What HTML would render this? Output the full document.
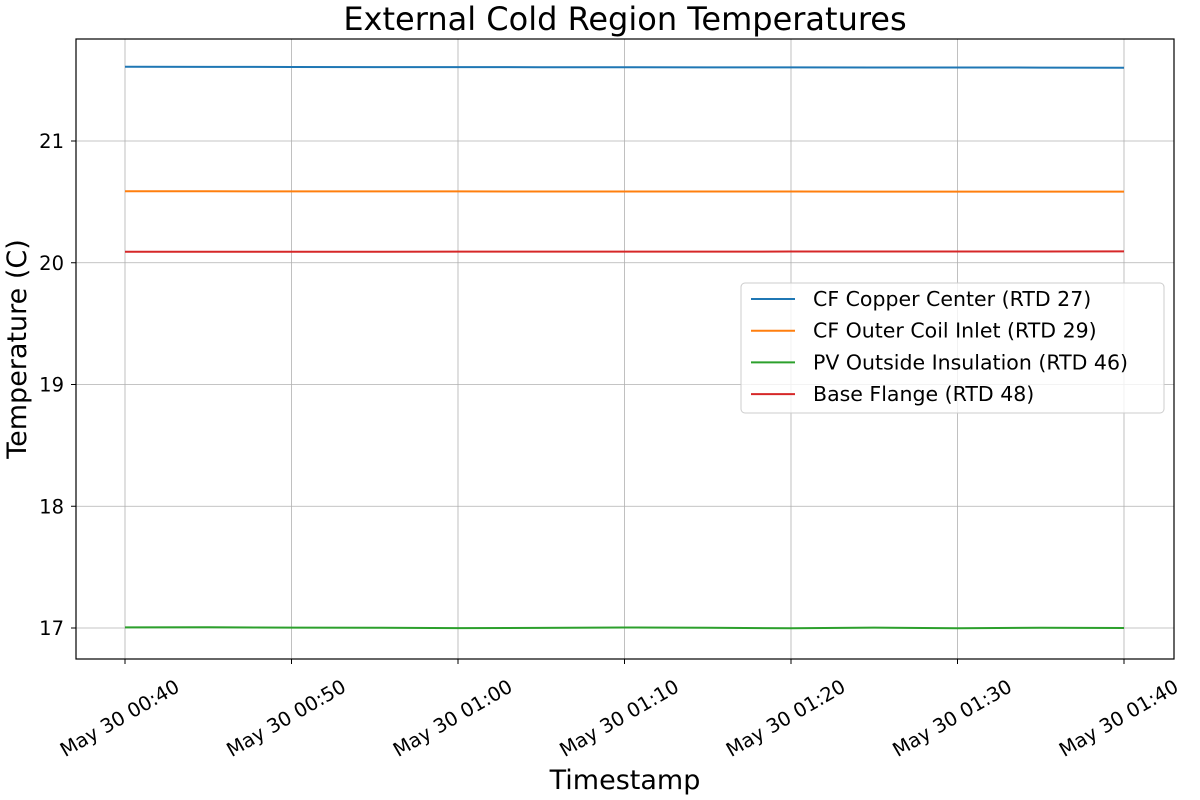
<!DOCTYPE html>
<html><head><meta charset="utf-8"><style>
body{margin:0;background:#fff;}
svg{display:block;font-family:"DejaVu Sans","Liberation Sans",sans-serif;}
</style></head><body>
<svg id="chart" width="1200" height="800">
<text x="625" y="30" font-size="32" text-anchor="middle">External Cold Region Temperatures</text>
<g id="grid"></g>
<g id="series"></g>
<rect x="76" y="39" width="1098" height="620" fill="none" stroke="#000" stroke-width="1.2"/>
<g id="axes"></g>
<text x="625" y="789" font-size="27" text-anchor="middle">Timestamp</text>
<text transform="translate(26,349) rotate(-90)" font-size="27" text-anchor="middle">Temperature (C)</text>
<g id="legend">
<rect x="741" y="283" width="423" height="130" rx="4" fill="#fff" fill-opacity="0.8" stroke="#ccc"/>
</g>
</svg>
<script>
const seriesNames=["CF Copper Center (RTD 27)","CF Outer Coil Inlet (RTD 29)","PV Outside Insulation (RTD 46)","Base Flange (RTD 48)"];
const seriesColors=["#1f77b4","#ff7f0e","#2ca02c","#d62728"];
const timeMinutes=[0,5,10,15,20,25,30,35,40,45,50,55,60];
const copperValues=[21.61,21.609,21.608,21.607,21.607,21.606,21.606,21.605,21.605,21.604,21.604,21.603,21.602];
const coilValues=[20.587,20.587,20.586,20.586,20.586,20.585,20.585,20.585,20.585,20.584,20.584,20.584,20.584];
const insulationValues=[17.005,17.006,17.003,17.002,16.999,17.001,17.004,17.002,16.998,17.003,16.998,17.002,17.0];
const flangeValues=[20.09,20.09,20.09,20.09,20.091,20.091,20.091,20.091,20.092,20.092,20.092,20.092,20.093];
const yTicks=[17,18,19,20,21];
const xTickMinutes=[0,10,20,30,40,50,60];
const xTickLabels=["May 30 00:40","May 30 00:50","May 30 01:00","May 30 01:10","May 30 01:20","May 30 01:30","May 30 01:40"];
const NS="http://www.w3.org/2000/svg";
function xs(m){return 125+(m/60)*999;}
function ys(v){return 628-(v-17)*121.75;}
function mk(t,a,p){const e=document.createElementNS(NS,t);for(const k in a)e.setAttribute(k,a[k]);p.appendChild(e);return e;}
const grid=document.getElementById('grid'),axes=document.getElementById('axes'),ser=document.getElementById('series'),leg=document.getElementById('legend');
yTicks.forEach(v=>{
  const y=ys(v);
  const g=mk('line',{x1:76,x2:1174,y1:y,y2:y,stroke:'#b0b0b0','stroke-width':0.8},grid);
  
  
  mk('line',{x1:71,x2:76,y1:y,y2:y,stroke:'#000'},axes);
  const t=mk('text',{x:64,y:y+7,'font-size':19.5,'text-anchor':'end'},axes);
  t.textContent=v;
  
  
});
xTickMinutes.forEach((m,i)=>{
  const x=xs(m);
  const g=mk('line',{x1:x,x2:x,y1:39,y2:659,stroke:'#b0b0b0','stroke-width':0.8},grid);
  
  
  mk('line',{x1:x,x2:x,y1:659,y2:664,stroke:'#000'},axes);
  const t=mk('text',{x:0,y:0,'font-size':19.5,'text-anchor':'middle',transform:`translate(${x-2},724) rotate(-30)`},axes);
  t.textContent=xTickLabels[i];
  
  
});
[copperValues,coilValues,insulationValues,flangeValues].forEach((vals,i)=>{
  const pts=vals.map((v,j)=>xs(timeMinutes[j]).toFixed(1)+','+ys(v).toFixed(2)).join(' ');
  const p=mk('polyline',{points:pts,fill:'none',stroke:seriesColors[i],'stroke-width':2},ser);
  
  
  const ly=299+i*31.7;
  mk('line',{x1:751,x2:795,y1:ly,y2:ly,stroke:seriesColors[i],'stroke-width':2},leg);
  const t=mk('text',{x:813,y:ly+7,'font-size':20.5},leg);
  t.textContent=seriesNames[i];
  
  
});
</script>
</body></html>
